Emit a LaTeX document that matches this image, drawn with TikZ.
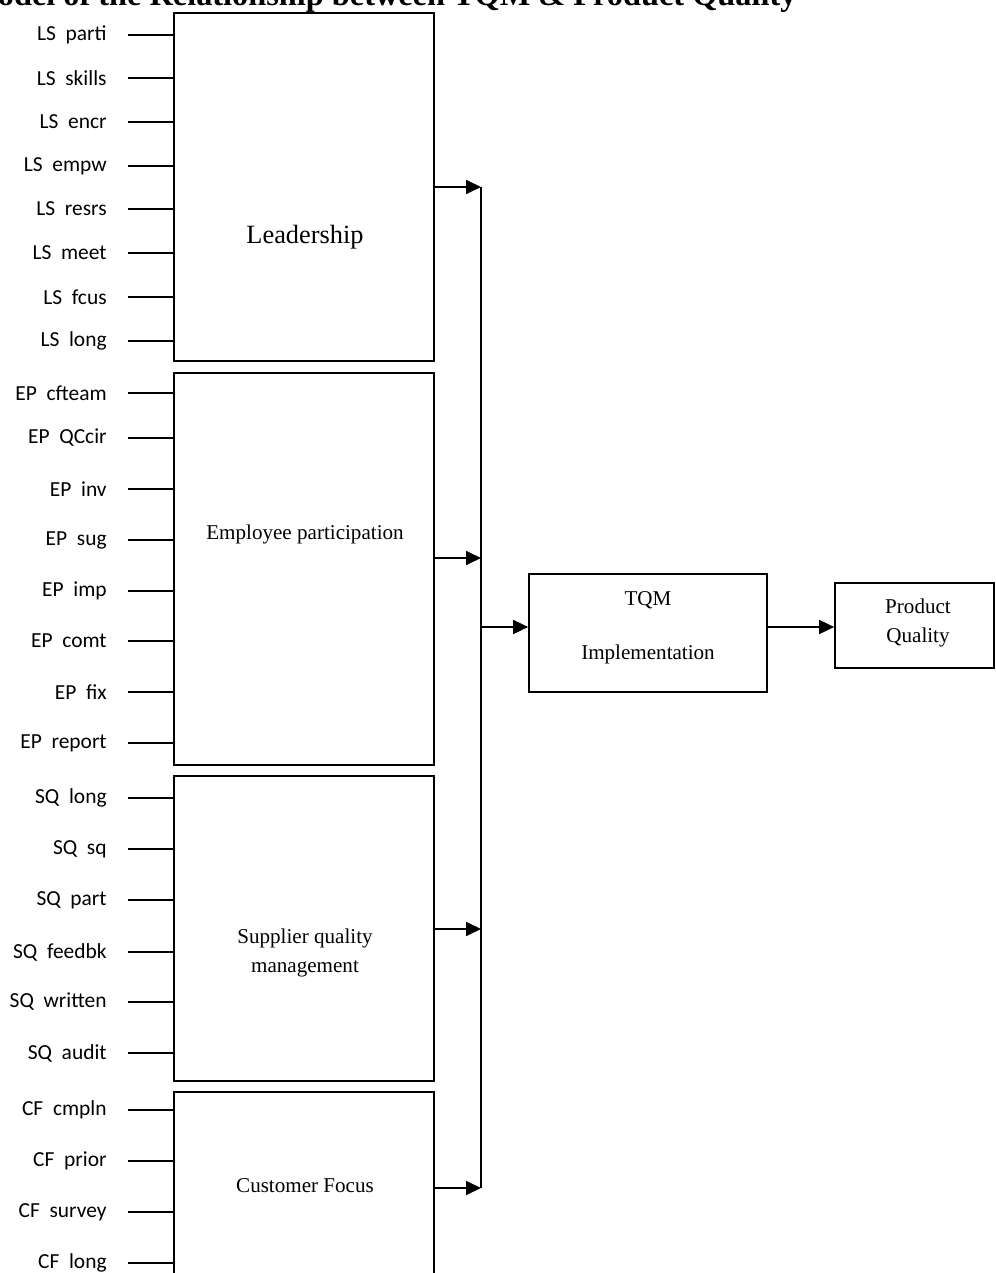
\documentclass[tikz,border=0pt]{standalone}
\usepackage{fontspec}
\setmainfont{Liberation Serif}
\newfontfamily\lblfont{Carlito}
\usepackage{tikz}
\usetikzlibrary{arrows.meta}

\begin{document}
\begin{tikzpicture}[x=0.02cm,y=-0.02cm,
  box/.style={draw,line width=1pt,inner sep=0pt},
  lbl/.style={anchor=east,inner sep=0pt,font=\lblfont\fontsize{12.2}{14}\selectfont},
  txt/.style={font=\fontsize{12}{16}\selectfont,align=center},
  arr/.style={line width=1pt,-{Triangle[length=0.3cm,width=0.28cm]}}]
\clip (0,0) rectangle (995,1273);

\node [font=\bfseries\fontsize{18.4}{22}\selectfont,anchor=base west,inner sep=0pt] (title) at (-33,6) {Model of the Relationship between TQM \& Product Quality};

% factor boxes
\node [box,minimum width=5.2cm,minimum height=6.96cm] (lead) at (304,187) {};
\node [box,minimum width=5.2cm,minimum height=7.84cm] (ep) at (304,569) {};
\node [box,minimum width=5.2cm,minimum height=6.1cm] (sq) at (304,928.5) {};
\node [box,minimum width=5.2cm,minimum height=4.2cm] (cf) at (304,1197) {};
\node [font=\fontsize{15}{18}\selectfont] (leadtxt) at (305,237) {Leadership};
\node [txt] (eptxt) at (305,534) {Employee participation};
\node [txt] (sqtxt) at (305,953) {Supplier quality\\management};
\node [txt] (cftxt) at (305,1186) {Customer Focus};

% leadership items
\node [lbl] (ls1) at (107,35) {LS\ \ parti};
\draw [line width=1pt] (ls1.east) ++(21,0) -- (ls1.east -| lead.west);
\node [lbl] (ls2) at (107,78) {LS\ \ skills};
\draw [line width=1pt] (ls2.east) ++(21,0) -- (ls2.east -| lead.west);
\node [lbl] (ls3) at (107,122) {LS\ \ encr};
\draw [line width=1pt] (ls3.east) ++(21,0) -- (ls3.east -| lead.west);
\node [lbl] (ls4) at (107,166) {LS\ \ empw};
\draw [line width=1pt] (ls4.east) ++(21,0) -- (ls4.east -| lead.west);
\node [lbl] (ls5) at (107,209) {LS\ \ resrs};
\draw [line width=1pt] (ls5.east) ++(21,0) -- (ls5.east -| lead.west);
\node [lbl] (ls6) at (107,253) {LS\ \ meet};
\draw [line width=1pt] (ls6.east) ++(21,0) -- (ls6.east -| lead.west);
\node [lbl] (ls7) at (107,297) {LS\ \ fcus};
\draw [line width=1pt] (ls7.east) ++(21,0) -- (ls7.east -| lead.west);
\node [lbl] (ls8) at (107,341) {LS\ \ long};
\draw [line width=1pt] (ls8.east) ++(21,0) -- (ls8.east -| lead.west);

% employee participation items
\node [lbl] (ep1) at (107,393) {EP\ \ cfteam};
\draw [line width=1pt] (ep1.east) ++(21,0) -- (ep1.east -| ep.west);
\node [lbl] (ep2) at (107,438) {EP\ \ QCcir};
\draw [line width=1pt] (ep2.east) ++(21,0) -- (ep2.east -| ep.west);
\node [lbl] (ep3) at (107,489) {EP\ \ inv};
\draw [line width=1pt] (ep3.east) ++(21,0) -- (ep3.east -| ep.west);
\node [lbl] (ep4) at (107,540) {EP\ \ sug};
\draw [line width=1pt] (ep4.east) ++(21,0) -- (ep4.east -| ep.west);
\node [lbl] (ep5) at (107,591) {EP\ \ imp};
\draw [line width=1pt] (ep5.east) ++(21,0) -- (ep5.east -| ep.west);
\node [lbl] (ep6) at (107,641) {EP\ \ comt};
\draw [line width=1pt] (ep6.east) ++(21,0) -- (ep6.east -| ep.west);
\node [lbl] (ep7) at (107,692) {EP\ \ fix};
\draw [line width=1pt] (ep7.east) ++(21,0) -- (ep7.east -| ep.west);
\node [lbl] (ep8) at (107,743) {EP\ \ report};
\draw [line width=1pt] (ep8.east) ++(21,0) -- (ep8.east -| ep.west);

% supplier quality items
\node [lbl] (sq1) at (107,798) {SQ\ \ long};
\draw [line width=1pt] (sq1.east) ++(21,0) -- (sq1.east -| sq.west);
\node [lbl] (sq2) at (107,849) {SQ\ \ sq};
\draw [line width=1pt] (sq2.east) ++(21,0) -- (sq2.east -| sq.west);
\node [lbl] (sq3) at (107,900) {SQ\ \ part};
\draw [line width=1pt] (sq3.east) ++(21,0) -- (sq3.east -| sq.west);
\node [lbl] (sq4) at (107,952) {SQ\ \ feedbk};
\draw [line width=1pt] (sq4.east) ++(21,0) -- (sq4.east -| sq.west);
\node [lbl] (sq5) at (107,1002) {SQ\ \ written};
\draw [line width=1pt] (sq5.east) ++(21,0) -- (sq5.east -| sq.west);
\node [lbl] (sq6) at (107,1053) {SQ\ \ audit};
\draw [line width=1pt] (sq6.east) ++(21,0) -- (sq6.east -| sq.west);

% customer focus items
\node [lbl] (cf1) at (107,1110) {CF\ \ cmpln};
\draw [line width=1pt] (cf1.east) ++(21,0) -- (cf1.east -| cf.west);
\node [lbl] (cf2) at (107,1161) {CF\ \ prior};
\draw [line width=1pt] (cf2.east) ++(21,0) -- (cf2.east -| cf.west);
\node [lbl] (cf3) at (107,1212) {CF\ \ survey};
\draw [line width=1pt] (cf3.east) ++(21,0) -- (cf3.east -| cf.west);
\node [lbl] (cf4) at (107,1263) {CF\ \ long};
\draw [line width=1pt] (cf4.east) ++(21,0) -- (cf4.east -| cf.west);

% collecting line
\coordinate (bls) at (481,187);
\coordinate (bep) at (481,558);
\coordinate (bsq) at (481,929);
\coordinate (bcf) at (481,1188);
\coordinate (btqm) at (481,627);
\draw [line width=1pt] (bls) -- (bcf);
\draw [arr] (bls -| lead.east) -- (bls);
\draw [arr] (bep -| ep.east) -- (bep);
\draw [arr] (bsq -| sq.east) -- (bsq);
\draw [arr] (bcf -| cf.east) -- (bcf);

% outcome boxes
\node [box,minimum width=4.76cm,minimum height=2.36cm] (tqm) at (648,633) {};
\node [txt] (tqmtxt) at (648,600) {TQM};
\node [txt] (imptxt) at (648,654) {Implementation};
\node [box,minimum width=3.18cm,minimum height=1.7cm] (prod) at (914.5,625.5) {};
\node [txt] (prodtxt) at (918,623) {Product\\Quality};
\draw [arr] (btqm) -- (btqm -| tqm.west);
\draw [arr] (btqm -| tqm.east) -- (btqm -| prod.west);

\end{tikzpicture}
\end{document}
